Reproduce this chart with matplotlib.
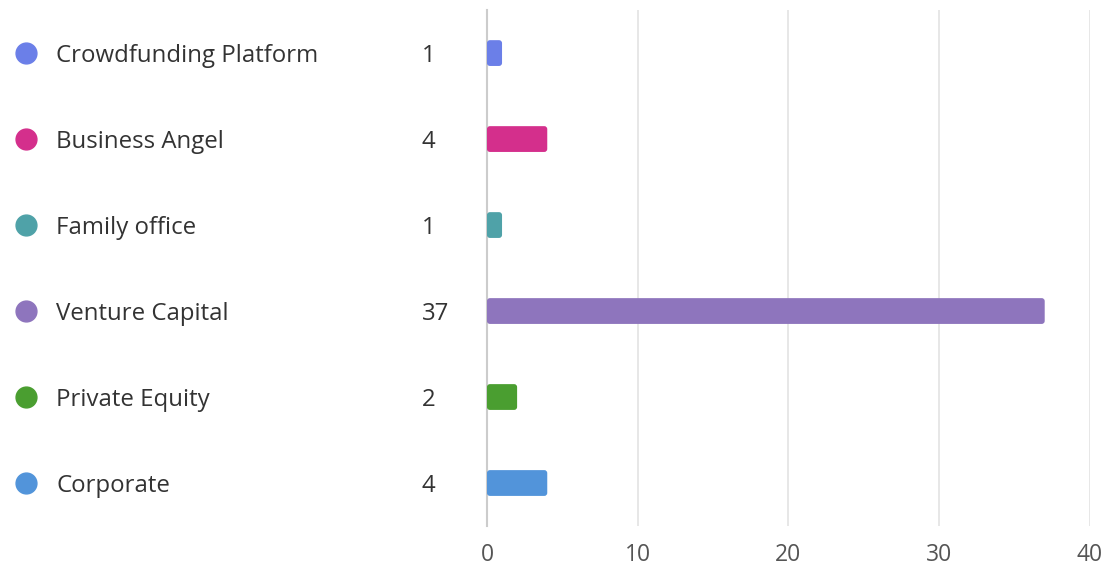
import matplotlib.pyplot as plt
import matplotlib.transforms as mtransforms
from matplotlib.patches import FancyBboxPatch

categories = ["Crowdfunding Platform", "Business Angel", "Family office",
              "Venture Capital", "Private Equity", "Corporate"]
values = [1, 4, 1, 37, 2, 4]
colors = ["#6b7fe8", "#d42f8c", "#4fa2a8", "#8e75bd", "#4a9e30", "#5294da"]
xticks = [0, 10, 20, 30, 40]

plt.rcParams["font.family"] = ["Open Sans", "DejaVu Sans"]

fig = plt.figure(figsize=(11.09, 5.72), dpi=100)
ax = fig.add_axes([0.4391, 0.0804, 0.5437, 0.902])

y = list(range(len(categories)))
bars = ax.barh(y, values, height=0.3, color="none")

# rounded corners on each bar
for bar, c in zip(bars, colors):
    bar.set_visible(False)
    p = FancyBboxPatch((bar.get_x(), bar.get_y()), bar.get_width(), bar.get_height(),
                       boxstyle="round,pad=0,rounding_size=0.2",
                       mutation_aspect=0.174, facecolor=c, edgecolor="none", zorder=3)
    ax.add_patch(p)

ax.set_xlim(0, 40)
ax.set_ylim(len(categories) - 0.5, -0.5)
ax.set_xticks(xticks)
ax.set_yticks([])
ax.grid(axis="x", color="#e3e3e3", linewidth=1.2, zorder=0)
for s in ["top", "right", "bottom"]:
    ax.spines[s].set_visible(False)
ax.spines["left"].set_color("#cccccc")
ax.spines["left"].set_linewidth(1.5)
ax.tick_params(axis="x", length=0, labelsize=16.5, labelcolor="#555555", pad=12)

trans = mtransforms.blended_transform_factory(fig.transFigure, ax.transData)
for i, (cat, v, c) in enumerate(zip(categories, values, colors)):
    ax.plot([26 / 1109], [i], "o", color=c, markersize=15, transform=trans, clip_on=False)
    fig.text(56 / 1109, i, cat, transform=trans, va="center_baseline", ha="left",
             fontsize=17.3, color="#333333")
    fig.text(422 / 1109, i, str(v), transform=trans, va="center_baseline", ha="left",
             fontsize=17.3, color="#333333")

fig.savefig("out.png", dpi=100)
